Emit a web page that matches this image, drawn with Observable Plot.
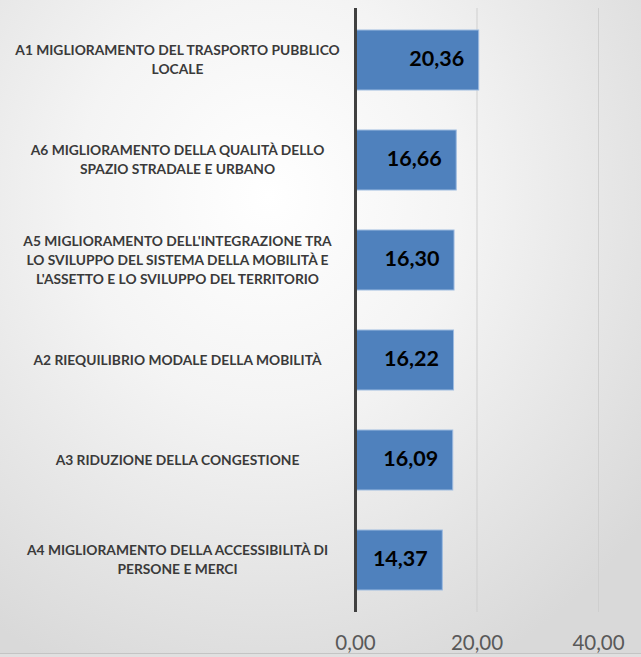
<!DOCTYPE html>
<html>
<head>
<meta charset="utf-8">
<script src="https://cdn.jsdelivr.net/npm/d3@7"></script>
<script src="https://cdn.jsdelivr.net/npm/@observablehq/plot@0.6"></script>
<style>
  html, body { margin: 0; padding: 0; }
  body { width: 641px; height: 657px; overflow: hidden; background: #e0e0e0; }
  #chart {
    width: 641px; height: 653px;
    background: radial-gradient(ellipse 75% 80% at 42% 30%, #ffffff 0%, #f4f4f4 40%, #e2e2e2 80%, #d9d9d9 100%);
    border-bottom: 1px solid #c4c4c4;
  }
  #chart svg { background: transparent; display: block; }
</style>
</head>
<body>
<div id="chart"></div>
<script>
const categories = [
  "A1 MIGLIORAMENTO DEL TRASPORTO PUBBLICO\nLOCALE",
  "A6 MIGLIORAMENTO DELLA QUALITÀ DELLO\nSPAZIO STRADALE E URBANO",
  "A5 MIGLIORAMENTO DELL'INTEGRAZIONE TRA\nLO SVILUPPO DEL SISTEMA DELLA MOBILITÀ E\nL'ASSETTO E LO SVILUPPO DEL TERRITORIO",
  "A2 RIEQUILIBRIO MODALE DELLA MOBILITÀ",
  "A3 RIDUZIONE DELLA CONGESTIONE",
  "A4 MIGLIORAMENTO DELLA ACCESSIBILITÀ DI\nPERSONE E MERCI"
];
const values = [20.36, 16.66, 16.30, 16.22, 16.09, 14.37];
const xTicks = [0, 20, 40];

const data = categories.map((c, i) => ({category: c, value: values[i]}));
const fmt = v => v.toFixed(2).replace(".", ",");

const chart = Plot.plot({
  width: 641,
  height: 653,
  marginLeft: 355,
  marginRight: 43,
  marginTop: 8,
  marginBottom: 41,
  style: {background: "transparent", overflow: "visible"},
  x: {domain: [0, 40], ticks: xTicks},
  y: {domain: categories, paddingInner: 0.4, paddingOuter: 0.2},
  marks: [
    Plot.ruleX(xTicks.slice(1), {stroke: "#cfcfcf", strokeWidth: 1}),
    Plot.barX(data, {y: "category", x: "value", fill: "#4F81BD", stroke: "#9dbbe0", strokeWidth: 1}),
    Plot.ruleX([0], {stroke: "#404040", strokeWidth: 3}),
    Plot.text(data, {
      y: "category", x: "value", text: d => fmt(d.value),
      textAnchor: "end", dx: -15, dy: -1, fill: "#000000",
      fontSize: 21.5, fontWeight: "bold", fontFamily: "Lato"
    }),
    Plot.axisY({
      tickSize: 0, tickPadding: 0, dx: -178, dy: -2, textAnchor: "middle",
      fontSize: 13.8, fontWeight: "bold", fontFamily: "Lato", fill: "#3a3a3a",
      lineHeight: 1.38, label: null
    }),
    Plot.axisX({
      ticks: xTicks, tickSize: 0, tickPadding: 23, tickFormat: fmt,
      fontSize: 20.5, fontFamily: "Lato", fill: "#595959", label: null
    })
  ]
});
document.getElementById("chart").appendChild(chart);
</script>
</body>
</html>
